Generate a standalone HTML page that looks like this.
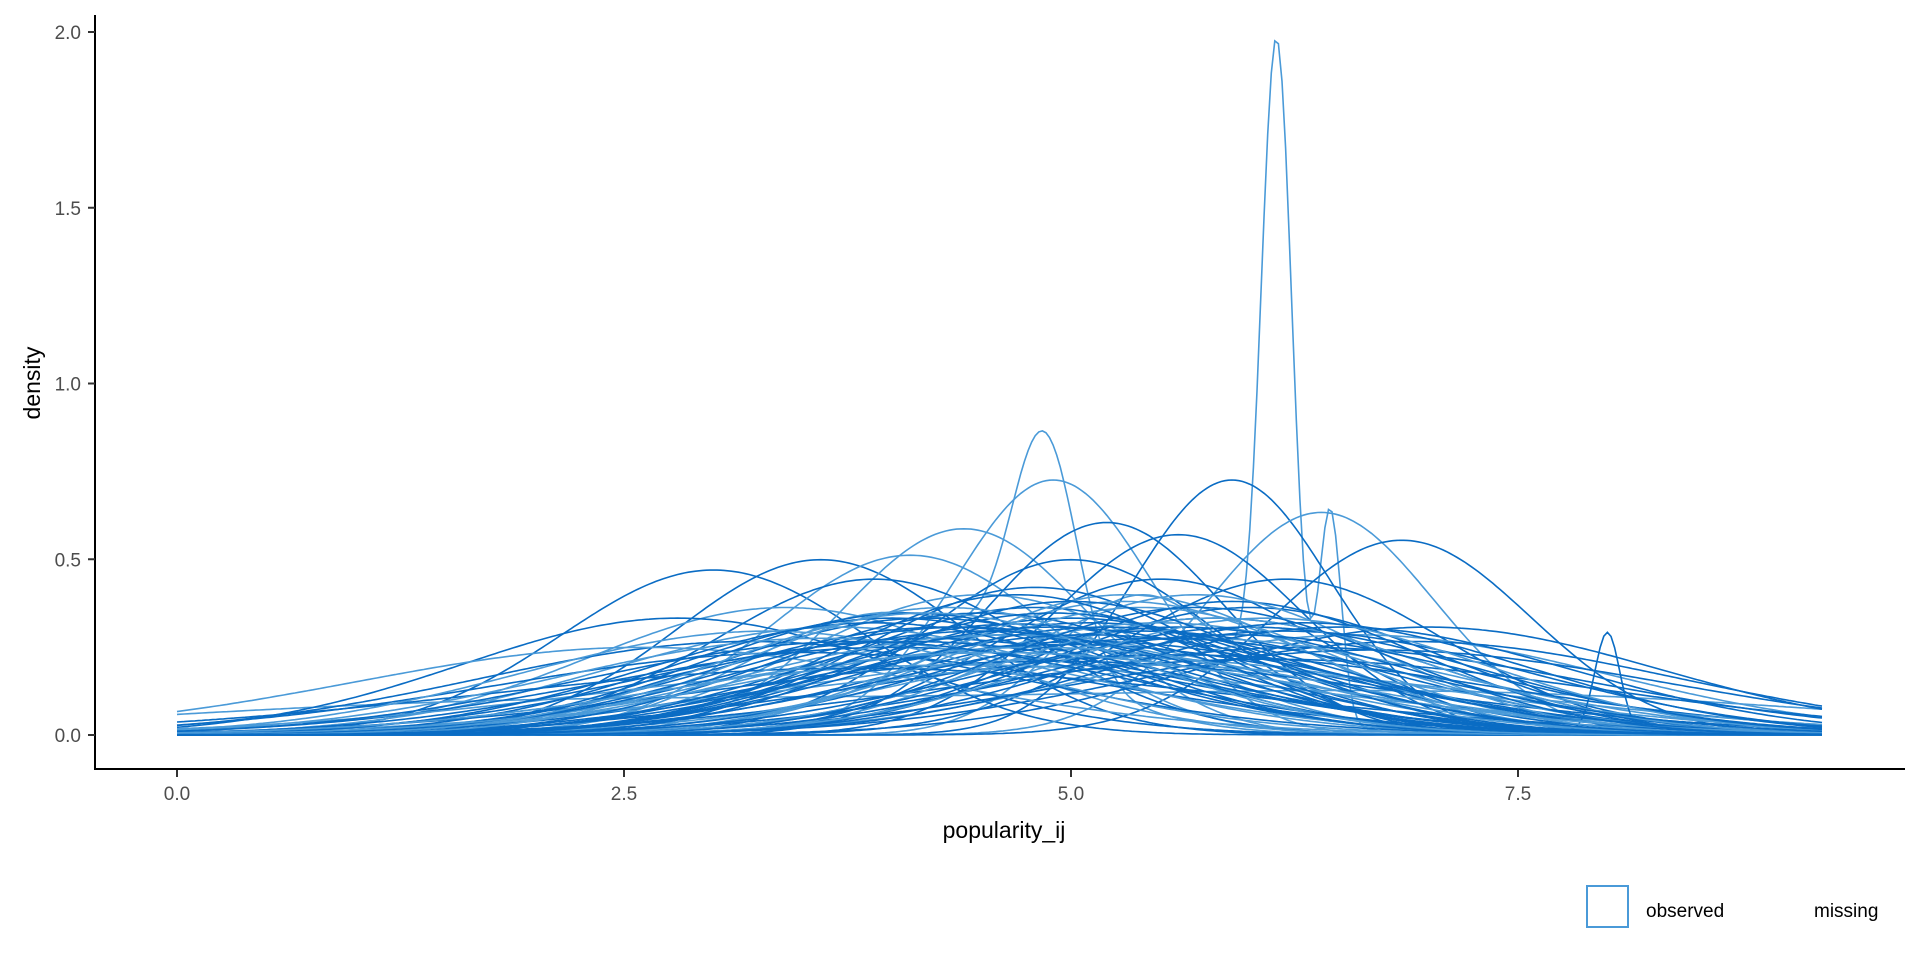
<!DOCTYPE html>
<html><head><meta charset="utf-8"><style>
body{margin:0;background:#fff;width:1920px;height:960px;overflow:hidden;font-family:"Liberation Sans",sans-serif}
</style></head><body>
<svg id="chart" width="1920" height="960">
<g id="curves"></g>
<line x1="95" y1="15" x2="95" y2="770" stroke="#000" stroke-width="2"/>
<line x1="94" y1="769" x2="1905" y2="769" stroke="#000" stroke-width="2"/>
<g id="yticks"></g>
<g id="xticks"></g>
<text x="1004" y="838" font-size="23" text-anchor="middle" fill="#000">popularity_ij</text>
<text transform="translate(40,383) rotate(-90)" font-size="23" text-anchor="middle" fill="#000">density</text>
<rect x="1587" y="886" width="41" height="41" fill="none" stroke="#4a9ad8" stroke-width="2"/>
<text x="1646" y="917" font-size="19" fill="#000">observed</text>
<text x="1814" y="917" font-size="19" fill="#000">missing</text>
</svg>
<script>
const yTicks=[0,0.5,1.0,1.5,2.0];
const yTickLabels=["0.0","0.5","1.0","1.5","2.0"];
const xTicks=[0,2.5,5,7.5];
const xTickLabels=["0.0","2.5","5.0","7.5"];
// each curve: mixture components (mean, sd, weight)
const curveMeans=[
[1.5,4.5,7.5],[6.15,6.45,5.4],[4.85,4.0],[4.9],[3.0],[3.6],[4.4],[5.2],[5.9],[6.4],[6.85],[5.6],[4.1],[3.9],[5.0],[4.5],[5.5],[6.2],[3.4],[2.8],[4.8],[5.3],[6.0],[4.2],[3.7],[5.1],[5.8],[6.6],[4.3],[5.4],[4.7],[3.2],[6.9],[5.7],[4.0],[5.0],[4.6],[6.3],[3.5],[5.2],[4.9],[5.6],[4.4],[6.1],[3.8],[5.3],[4.1],[7.0],[2.6],[5.9],[4.7,8.0],[5.5],[4.2],[6.7],[3.3],[5.1],[4.8],[5.7],[4.5],[6.0],
[4.3],[5.0],[5.6],[4.6],[3.9],[6.2],[5.3],[4.9],[4.1],[5.8],[4.4],[5.1],[3.6],[6.5],[4.7],[5.4],[4.0],[5.9],[4.8],[5.2],[3.8],[6.1],[4.5],[5.5],[4.2],[5.0],[6.3],[4.6],[5.7],[4.9]
];
const curveSds=[
[1.9,2,2],[0.085,0.06,0.5],[0.18,0.8],[0.55],[0.85],[0.8],[0.68],[0.66],[0.55],[0.63],[0.72],[0.7],[0.78],[0.9],[0.8],[1.0],[0.9],[0.9],[1.1],[1.2],[1.1],[1.0],[1.1],[1.2],[1.3],[1.25],[1.2],[1.4],[1.3],[1.35],[1.4],[1.5],[1.5],[1.45],[1.6],[1.55],[1.7],[1.6],[1.7],[1.8],[1.9],[1.75],[2.0],[1.85],[2.1],[2.0],[1.15],[1.3],[1.6],[1.05],[1.2,0.07],[1.25],[1.45],[1.65],[1.35],[1.5],[0.95],[1.0],[1.15],[1.3],
[1.1],[1.2],[1.3],[1.4],[1.25],[1.35],[1.05],[1.15],[1.5],[1.2],[1.3],[1.4],[1.45],[1.3],[1.0],[1.1],[1.2],[1.4],[1.6],[1.3],[1.5],[1.2],[1.35],[1.45],[1.15],[1.05],[1.25],[1.7],[1.1],[1.3]
];
const curveWeights=[
[0.35,0.3,0.5],[0.395,0.09,0.5],[0.3,0.7],[1],[1],[1],[1],[1],[1],[1],[1],[1],[1],[1],[1],[1],[1],[1],[1],[1],[1],[1],[1],[1],[1],[1],[1],[1],[1],[1],[1],[1],[1],[1],[1],[1],[1],[1],[1],[1],[1],[1],[1],[1],[1],[1],[1],[1],[1],[1],[0.95,0.05],[1],[1],[1],[1],[1],[1],[1],[1],[1],
[1],[1],[1],[1],[1],[1],[1],[1],[1],[1],[1],[1],[1],[1],[1],[1],[1],[1],[1],[1],[1],[1],[1],[1],[1],[1],[1],[1],[1],[1]
];
const NS="http://www.w3.org/2000/svg";
const xs=v=>177+v*178.8, ys=v=>735-v*351.5;
function dens(i,x){let s=0;for(let k=0;k<curveMeans[i].length;k++){const m=curveMeans[i][k],sd=curveSds[i][k],w=curveWeights[i][k];s+=w*Math.exp(-0.5*((x-m)/sd)**2)/(sd*2.5066);}return s;}
const cg=document.getElementById('curves');
for(let i=0;i<curveMeans.length;i++){
 let d="";for(let j=0;j<=460;j++){const x=j*9.2/460;d+=(j?"L":"M")+xs(x).toFixed(1)+","+ys(dens(i,x)).toFixed(1);}
 const p=document.createElementNS(NS,'path');p.setAttribute('d',d);
 p.setAttribute('fill','none');p.setAttribute('stroke',i%3==0||i<3?'#4a9ad8':'#0a6cc4');p.setAttribute('stroke-width','1.6');
 
 
 cg.appendChild(p);
}
const yg=document.getElementById('yticks');
yTicks.forEach((v,i)=>{const y=ys(v);
 const l=document.createElementNS(NS,'line');l.setAttribute('x1',88);l.setAttribute('x2',95);l.setAttribute('y1',y);l.setAttribute('y2',y);l.setAttribute('stroke','#333');l.setAttribute('stroke-width','2');
 
 
 yg.appendChild(l);
 const t=document.createElementNS(NS,'text');t.setAttribute('x',81);t.setAttribute('y',y+7);t.setAttribute('text-anchor','end');t.setAttribute('font-size','19');t.setAttribute('fill','#4d4d4d');t.textContent=yTickLabels[i];
 
 
 yg.appendChild(t);});
const xg=document.getElementById('xticks');
xTicks.forEach((v,i)=>{const x=xs(v);
 const l=document.createElementNS(NS,'line');l.setAttribute('x1',x);l.setAttribute('x2',x);l.setAttribute('y1',770);l.setAttribute('y2',777);l.setAttribute('stroke','#333');l.setAttribute('stroke-width','2');
 
 
 xg.appendChild(l);
 const t=document.createElementNS(NS,'text');t.setAttribute('x',x);t.setAttribute('y',800);t.setAttribute('text-anchor','middle');t.setAttribute('font-size','19');t.setAttribute('fill','#4d4d4d');t.textContent=xTickLabels[i];
 
 
 xg.appendChild(t);});
</script>
</body></html>
